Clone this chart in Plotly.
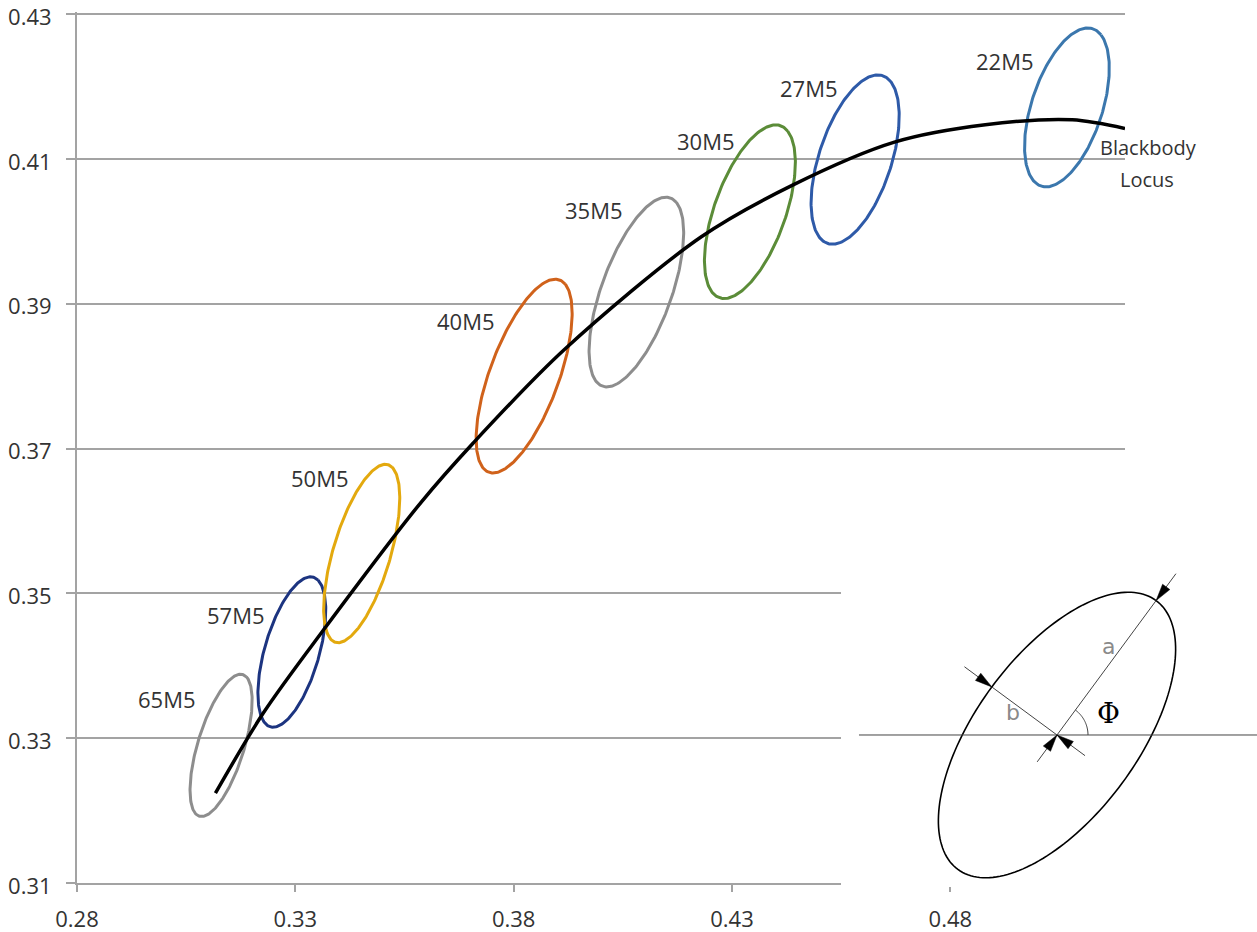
import numpy as np
import plotly.graph_objects as go

# MacAdam 5-step ellipses: names, centres (CIE 1931 x, y), semi-axes and tilt
labels = ["65M5", "57M5", "50M5", "40M5", "35M5", "30M5", "27M5", "22M5"]
center_x = [0.3130, 0.3292, 0.3452, 0.3824, 0.4081, 0.4341, 0.4582, 0.5067]
center_y = [0.3290, 0.3419, 0.3555, 0.3800, 0.3916, 0.4027, 0.4099, 0.4171]
semi_a = [0.0111, 0.0116, 0.0138, 0.0158, 0.0154, 0.0141, 0.0135, 0.0127]
semi_b = [0.0049, 0.0058, 0.0061, 0.0071, 0.0072, 0.0073, 0.0075, 0.0073]
tilt_deg = [58.8, 59.0, 59.8, 53.5, 53.5, 52.0, 53.0, 52.0]

# Blackbody (Planckian) locus
locus_x = [0.3117, 0.3227, 0.3364, 0.3587, 0.3708, 0.3915, 0.4229, 0.4440,
           0.4672, 0.4880, 0.5079, 0.5200]
locus_y = [0.3224, 0.3335, 0.3449, 0.3625, 0.3708, 0.3836, 0.3992, 0.4064,
           0.4123, 0.4147, 0.4154, 0.4142]

# axis ticks
x_ticks = [0.28, 0.33, 0.38, 0.43, 0.48]
y_ticks = [0.31, 0.33, 0.35, 0.37, 0.39, 0.41, 0.43]

# styling
colors = ["#8d8d8d", "#1c3480", "#e3a90e", "#d0621b",
          "#8d8d8d", "#5b8c38", "#2e5aa8", "#3b77ad"]
label_shift = [(-54, 46), (-56, 37), (-42, 76), (-58, 55),
               (-42, 82), (-44, 71), (-46, 72), (-62, 46)]
FONT = "Open Sans"
TEXT = "#333333"
GRID = "#a3a3a3"

W, H = 1257, 932
ML, MR, MT, MB = 77, 132, 12, 49
PW, PH = W - ML - MR, H - MT - MB
# small headroom so the 0.43 gridline is kept inside the plotting area
Y_TOP = 0.43 + 2 * 0.12 / (H - MB - 14)


def paper(px, py):
    return (px - ML) / PW, (H - MB - py) / PH


fig = go.Figure()

t = np.linspace(0, 2 * np.pi, 241)
for cx, cy, a, b, phi, col in zip(center_x, center_y, semi_a, semi_b, tilt_deg, colors):
    p = np.radians(phi)
    ex = cx + a * np.cos(p) * np.cos(t) - b * np.sin(p) * np.sin(t)
    ey = cy + a * np.sin(p) * np.cos(t) + b * np.cos(p) * np.sin(t)
    fig.add_trace(go.Scatter(x=ex, y=ey, mode="lines",
                             line=dict(color=col, width=3),
                             hoverinfo="skip", showlegend=False))

fig.add_trace(go.Scatter(x=locus_x, y=locus_y, mode="lines",
                         line=dict(color="black", width=3.5, shape="spline", smoothing=0.9),
                         hoverinfo="skip", showlegend=False))

annotations = []
for lab, cx, cy, (dx, dy) in zip(labels, center_x, center_y, label_shift):
    annotations.append(dict(x=cx, y=cy, xref="x", yref="y", text=lab, showarrow=False,
                            xanchor="center", yanchor="middle",
                            xshift=dx, yshift=dy, font=dict(family=FONT, size=22, color=TEXT)))
for txt, pos in [("Blackbody", (1148, 147)), ("Locus", (1147, 179))]:
    px_, py_ = paper(*pos)
    annotations.append(dict(x=px_, y=py_, xref="paper", yref="paper", text=txt,
                            xanchor="center", yanchor="middle",
                            showarrow=False, font=dict(family=FONT, size=20, color=TEXT)))


# ---- inset sketch defining a, b and the tilt angle (drawn in page pixels) ----
def svg_path(points, close=False):
    parts = []
    for i, (px, py) in enumerate(points):
        x, y = paper(px, py)
        parts.append(("M" if i == 0 else "L") + f"{x:.5f},{y:.5f}")
    return " ".join(parts) + (" Z" if close else "")


shapes = []
x0, y0 = paper(841, 887)
x1, y1 = paper(1257, 567)
shapes.append(dict(type="rect", xref="paper", yref="paper", x0=x0, y0=y0, x1=x1, y1=y1,
                   fillcolor="white", line=dict(width=0), layer="above"))

C = np.array([1057.0, 735.0])
A_PX, B_PX, PHI = 167.0, 81.0, np.radians(53.6)
m = np.array([np.cos(PHI), -np.sin(PHI)])   # major direction (screen coords)
n = np.array([-np.sin(PHI), -np.cos(PHI)])  # minor direction (screen coords)

tt = np.linspace(0, 2 * np.pi, 181)
ell = [C + A_PX * np.cos(s) * m + B_PX * np.sin(s) * n for s in tt]
shapes.append(dict(type="path", xref="paper", yref="paper", path=svg_path(ell, True),
                   line=dict(color="black", width=1.6), layer="above"))

thin = dict(color="#444444", width=1)
for p_a, p_b in [((859, 735), (1257, 735)),
                 (C - 0.2 * A_PX * m, C + 1.2 * A_PX * m),
                 (C + 1.42 * B_PX * n, C - 0.43 * B_PX * n)]:
    shapes.append(dict(type="path", xref="paper", yref="paper",
                       path=svg_path([p_a, p_b]), line=thin, layer="above"))

arc = [C + 31 * np.array([np.cos(th), -np.sin(th)]) for th in np.linspace(0, PHI, 30)]
shapes.append(dict(type="path", xref="paper", yref="paper", path=svg_path(arc),
                   line=thin, layer="above"))


def arrowhead(tip, u, length=17, half=4.5):
    perp = np.array([-u[1], u[0]])
    base = tip - length * u
    return svg_path([tip, base + half * perp, base - half * perp], True)


for tip, u in [(C + A_PX * m, -m), (C, m), (C + B_PX * n, -n), (C, n)]:
    shapes.append(dict(type="path", xref="paper", yref="paper", path=arrowhead(tip, u),
                       fillcolor="black", line=dict(color="black", width=0.5), layer="above"))

for txt, (px, py), fam, col, size in [("a", (1108, 646), "DejaVu Sans", "#8a8a8a", 22),
                                      ("b", (1013, 712), "DejaVu Sans", "#8a8a8a", 22),
                                      ("Φ", (1108, 713), "DejaVu Serif", "black", 28)]:
    ax_, ay_ = paper(px, py)
    annotations.append(dict(x=ax_, y=ay_, xref="paper", yref="paper", text=txt,
                            xanchor="center", yanchor="middle",
                            showarrow=False, font=dict(family=fam, size=size, color=col)))

fig.update_layout(
    template="none",
    width=W, height=H,
    margin=dict(l=ML, r=MR, t=MT, b=MB),
    paper_bgcolor="white", plot_bgcolor="white",
    font=dict(family=FONT, size=21, color=TEXT),
    showlegend=False,
    annotations=annotations,
    shapes=shapes,
    xaxis=dict(range=[0.28, 0.52], tickmode="array", tickvals=x_ticks,
               ticktext=[f"{v:.2f}" for v in x_ticks],
               showgrid=False, zeroline=False, showline=True, linecolor=GRID, linewidth=2,
               ticks="outside", ticklen=7, tickwidth=2, tickcolor=GRID,
               ticklabelstandoff=9, automargin=False, ticklabeloverflow="allow",
               tickfont=dict(family=FONT, size=22, color=TEXT)),
    yaxis=dict(range=[0.31, Y_TOP], tickmode="array", tickvals=y_ticks,
               ticktext=[f"{v:.2f}" for v in y_ticks],
               showgrid=True, gridcolor=GRID, gridwidth=2, zeroline=False,
               showline=True, linecolor=GRID, linewidth=2,
               ticks="outside", ticklen=9, tickwidth=2, tickcolor=GRID,
               ticklabelstandoff=10, ticklabelshift=3,
               automargin=False, ticklabeloverflow="allow",
               tickfont=dict(family=FONT, size=22, color=TEXT)),
)

fig.write_html("out.html")
